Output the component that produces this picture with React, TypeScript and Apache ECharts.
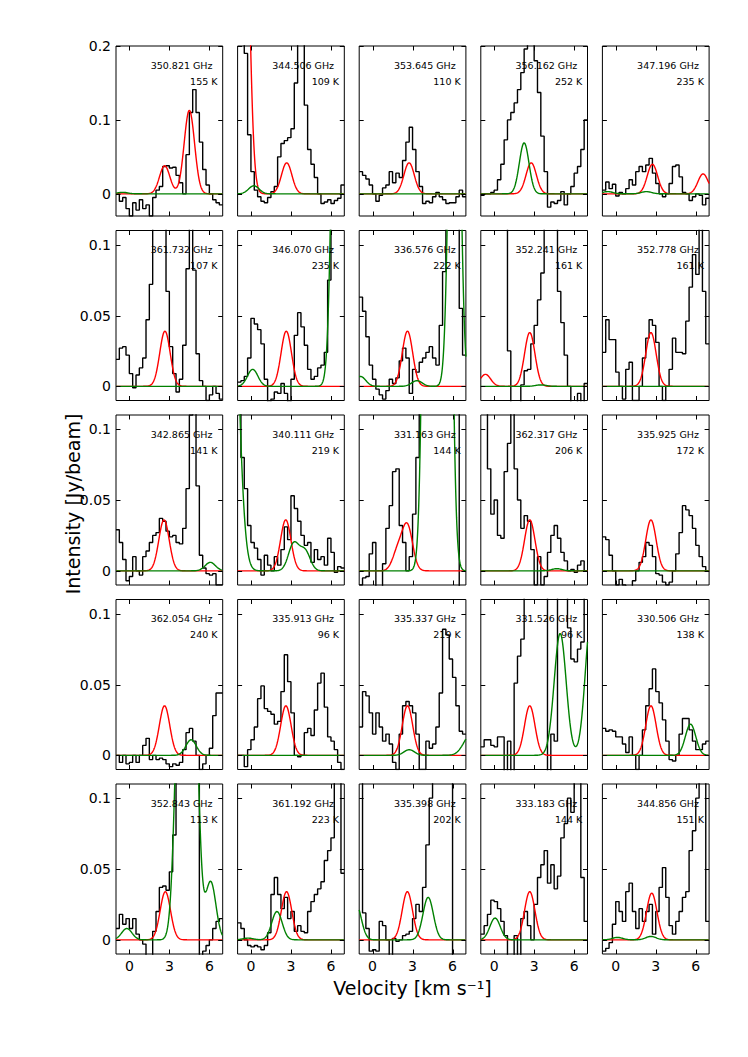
import React, { useEffect, useRef } from "react";
import * as echarts from "echarts";

// ---- data ----
const velStart = -1;
const chanWidth = 0.25;
const xTicks = [0, 3, 6];
const yTicksRow1 = [0, 0.1, 0.2];
const yTicksRest = [0, 0.05, 0.1];
const yRangeRow1 = [-0.03, 0.2];
const yRangeRest = [-0.01, 0.11];
const xRange = [-1, 7];

const freqLabels = [
  "350.821 GHz", "344.506 GHz", "353.645 GHz", "356.162 GHz", "347.196 GHz",
  "361.732 GHz", "346.070 GHz", "336.576 GHz", "352.241 GHz", "352.778 GHz",
  "342.865 GHz", "340.111 GHz", "331.163 GHz", "362.317 GHz", "335.925 GHz",
  "362.054 GHz", "335.913 GHz", "335.337 GHz", "331.526 GHz", "330.506 GHz",
  "352.843 GHz", "361.192 GHz", "335.398 GHz", "333.183 GHz", "344.856 GHz",
];
const tempLabels = [
  "155 K", "109 K", "110 K", "252 K", "235 K",
  "107 K", "235 K", "222 K", "161 K", "161 K",
  "141 K", "219 K", "144 K", "206 K", "172 K",
  "240 K", "96 K", "219 K", "96 K", "138 K",
  "113 K", "223 K", "202 K", "144 K", "151 K",
];

// observed spectra (Jy/beam), channels of 0.25 km/s from -1 to 7
const s00 = [0.0, -0.01, -0.005, -0.02, -0.03, -0.012, -0.022, -0.008, -0.02, -0.015, -0.03, -0.005, 0.005, 0.01, 0.037, 0.038, 0.035, 0.036, 0.025, 0.015, 0.0, 0.053, 0.11, 0.141, 0.11, 0.07, 0.033, 0.012, 0.0, -0.008, -0.012, -0.015];
const s01 = [0.25, 0.25, 0.19, 0.08, 0.03, 0.005, -0.004, -0.01, -0.012, -0.005, 0.003, 0.01, 0.05, 0.068, 0.072, 0.076, 0.088, 0.15, 0.25, 0.25, 0.12, 0.06, 0.04, 0.022, 0.0, -0.013, -0.011, -0.008, -0.013, -0.009, -0.006, 0.012];
const s02 = [0.03, 0.025, 0.02, 0.012, 0.0, -0.01, -0.002, 0.008, 0.012, 0.03, 0.015, 0.028, 0.022, 0.045, 0.07, 0.09, 0.06, 0.03, 0.01, -0.013, -0.01, -0.012, -0.004, 0.002, -0.004, -0.008, -0.013, -0.012, -0.012, -0.004, 0.005, -0.004];
const s03 = [-0.002, 0.0, 0.0, 0.002, 0.005, 0.019, 0.04, 0.073, 0.1, 0.11, 0.123, 0.141, 0.164, 0.196, 0.25, 0.25, 0.18, 0.137, 0.078, 0.03, -0.018, -0.011, -0.013, -0.009, 0.003, -0.015, 0.0, 0.01, 0.028, 0.037, 0.06, 0.1];
const s04 = [0.005, 0.016, 0.007, 0.013, -0.003, 0.002, 0.0, 0.007, 0.019, 0.012, 0.03, 0.037, 0.03, 0.039, 0.048, 0.028, 0.014, 0.0, -0.004, 0.0, 0.014, 0.037, 0.039, 0.023, 0.002, 0.0, -0.009, -0.004, 0.0, -0.002, -0.015, -0.006];
const s10 = [0.019, 0.027, 0.028, 0.022, 0.009, -0.001, 0.008, 0.013, 0.02, 0.047, 0.072, 0.13, 0.15, 0.15, 0.13, 0.067, 0.028, 0.009, -0.004, 0.005, 0.029, 0.083, 0.13, 0.082, 0.023, 0.004, 0.0, -0.01, -0.006, 0.0, -0.005, -0.009];
const s11 = [0.003, 0.004, 0.007, 0.02, 0.048, 0.044, 0.04, 0.03, 0.005, -0.011, -0.009, -0.004, -0.005, 0.002, -0.005, -0.011, 0.005, 0.036, 0.052, 0.042, 0.029, 0.012, 0.005, 0.007, 0.013, 0.015, 0.024, 0.075, 0.15, 0.15, 0.15, 0.15];
const s12 = [0.063, 0.053, 0.035, 0.015, 0.005, -0.002, -0.006, -0.009, -0.003, 0.005, 0.002, 0.006, 0.018, 0.027, 0.02, -0.005, 0.012, 0.01, 0.017, 0.02, 0.024, 0.028, 0.02, 0.015, 0.043, 0.081, 0.15, 0.15, 0.15, 0.15, 0.055, 0.022];
const s13 = [0.2, 0.2, 0.2, 0.2, 0.2, 0.2, 0.2, 0.2, 0.025, -0.02, -0.02, -0.02, 0.001, 0.011, 0.012, 0.03, 0.043, 0.061, 0.08, 0.2, 0.2, 0.2, 0.2, 0.067, 0.045, 0.022, 0.0, -0.02, -0.02, -0.005, -0.02, 0.002];
const s14 = [0.024, 0.047, 0.033, 0.033, 0.01, 0.0, -0.009, 0.012, 0.017, -0.01, -0.01, 0.0, 0.02, 0.034, 0.047, 0.043, 0.031, 0.0, -0.01, 0.0, 0.012, 0.034, 0.024, 0.024, 0.023, 0.046, 0.07, 0.093, 0.079, 0.15, 0.067, 0.03];
const s20 = [0.029, 0.02, 0.008, -0.007, -0.004, 0.01, 0.0, -0.003, 0.01, 0.014, 0.02, 0.025, 0.027, 0.037, 0.035, 0.028, 0.024, 0.025, 0.02, 0.019, 0.03, 0.058, 0.11, 0.15, 0.06, 0.011, 0.002, -0.002, -0.003, -0.002, -0.01, -0.01];
const s21 = [0.2, 0.08, 0.058, 0.032, 0.02, 0.016, 0.008, -0.003, 0.011, 0.004, 0.0, 0.01, 0.004, 0.015, 0.031, 0.022, 0.053, 0.044, 0.035, 0.025, 0.018, 0.02, 0.006, 0.015, 0.008, 0.01, 0.004, 0.023, 0.013, -0.001, 0.003, 0.002];
const s22 = [-0.01, -0.005, -0.004, 0.012, 0.02, -0.02, -0.02, 0.005, 0.03, 0.046, 0.07, 0.072, 0.032, 0.02, 0.0, 0.01, 0.04, 0.08, 0.2, 0.2, 0.2, 0.2, 0.2, 0.2, 0.2, 0.2, 0.2, 0.2, 0.2, 0.2, -0.02, -0.02];
const s23 = [0.2, 0.2, 0.072, 0.04, 0.05, 0.025, 0.023, 0.07, 0.09, 0.2, 0.072, 0.05, 0.03, 0.039, 0.035, 0.015, -0.01, 0.01, -0.01, -0.004, 0.013, 0.025, 0.032, 0.023, 0.013, 0.007, 0.0, 0.001, -0.001, 0.004, 0.007, 0.0];
const s24 = [0.024, 0.022, 0.011, 0.0, -0.01, -0.006, -0.01, -0.015, -0.012, -0.007, 0.0, 0.006, 0.01, 0.02, 0.018, 0.01, -0.002, -0.003, -0.008, -0.01, -0.008, 0.0, 0.012, 0.027, 0.046, 0.043, 0.039, 0.03, 0.018, 0.01, 0.003, 0.0];
const s30 = [0.0, -0.005, 0.0, -0.006, -0.005, 0.0, -0.005, 0.0, 0.007, 0.012, -0.003, 0.0, -0.003, -0.002, -0.003, -0.006, -0.008, -0.006, -0.007, -0.005, 0.004, 0.016, 0.019, 0.01, 0.0, -0.01, -0.006, 0.0, 0.005, 0.028, 0.044, 0.044];
const s31 = [0.0, 0.0, -0.008, 0.004, 0.011, 0.02, 0.04, 0.049, 0.033, 0.031, 0.029, 0.022, 0.024, 0.045, 0.071, 0.052, 0.03, 0.0, -0.001, 0.0, 0.016, 0.019, 0.014, 0.032, 0.051, 0.058, 0.034, 0.013, 0.01, 0.004, -0.005, -0.01];
const s32 = [0.02, 0.045, 0.042, 0.03, 0.015, 0.03, 0.02, 0.01, 0.015, 0.008, -0.005, -0.01, 0.015, 0.035, 0.038, 0.035, 0.03, 0.015, -0.01, -0.01, 0.01, 0.005, 0.008, 0.02, 0.044, 0.089, 0.085, 0.068, 0.055, 0.035, 0.017, 0.015];
const s33 = [0.006, 0.011, 0.011, 0.007, 0.006, 0.013, 0.013, -0.02, 0.01, -0.02, 0.051, 0.07, 0.082, 0.2, 0.2, 0.2, 0.2, 0.2, 0.2, 0.2, -0.02, 0.015, 0.01, 0.2, 0.2, 0.2, 0.09, 0.068, 0.066, 0.075, 0.08, 0.2];
const s34 = [0.019, 0.017, 0.018, 0.017, 0.013, 0.013, 0.008, 0.002, 0.013, 0.0, -0.01, 0.0, 0.018, 0.035, 0.047, 0.061, 0.045, 0.037, 0.025, 0.01, -0.003, -0.004, 0.0, 0.015, 0.026, 0.026, 0.018, 0.01, 0.004, 0.004, 0.008, 0.01];
const s40 = [0.008, 0.018, 0.011, 0.015, 0.008, 0.015, 0.004, 0.0, -0.003, -0.02, -0.02, 0.006, 0.02, 0.037, 0.038, 0.035, 0.048, 0.074, 0.2, 0.2, 0.2, 0.2, 0.2, 0.2, 0.2, -0.02, -0.008, -0.004, 0.0, 0.008, 0.013, 0.015];
const s41 = [0.012, 0.008, 0.0, -0.004, -0.005, -0.004, -0.005, -0.007, -0.004, 0.005, 0.032, 0.044, 0.032, 0.022, 0.03, 0.015, 0.02, 0.006, 0.01, 0.006, 0.005, 0.02, 0.027, 0.032, 0.036, 0.041, 0.056, 0.063, 0.072, 0.2, 0.2, 0.047];
const s42 = [0.2, 0.019, 0.008, -0.008, -0.007, -0.008, 0.013, 0.01, 0.0, -0.02, 0.001, -0.001, 0.0, 0.003, 0.004, 0.006, 0.015, 0.025, 0.02, 0.037, 0.067, 0.1, 0.2, 0.2, 0.2, 0.2, 0.2, 0.2, -0.02, -0.02, -0.02, -0.02];
const s43 = [0.004, 0.01, 0.018, 0.028, 0.027, 0.022, 0.013, 0.003, -0.02, -0.02, 0.003, -0.02, 0.015, 0.02, 0.01, 0.0, 0.025, 0.044, 0.053, 0.063, 0.04, 0.053, 0.036, 0.045, 0.072, 0.082, 0.1, 0.09, 0.2, 0.15, 0.044, 0.013];
const s44 = [-0.008, -0.006, -0.002, 0.011, 0.027, 0.02, 0.013, 0.034, 0.04, 0.02, 0.008, 0.022, 0.013, 0.02, 0.025, 0.004, 0.02, 0.037, 0.051, 0.03, 0.01, 0.004, 0.013, 0.02, 0.03, 0.034, 0.063, 0.077, 0.1, 0.2, 0.2, 0.013];

const spectra = [
  s00, s01, s02, s03, s04,
  s10, s11, s12, s13, s14,
  s20, s21, s22, s23, s24,
  s30, s31, s32, s33, s34,
  s40, s41, s42, s43, s44,
];

// fitted Gaussian components: [centre km/s, peak Jy/beam, sigma km/s]
const redFits: number[][][] = [
  [[2.65, 0.038, 0.39], [4.5, 0.113, 0.39]],
  [[-0.6, 0.6, 0.39], [2.68, 0.042, 0.39]],
  [[2.74, 0.042, 0.39]],
  [[2.78, 0.042, 0.39]],
  [[2.75, 0.04, 0.39], [6.55, 0.027, 0.39]],
  [[2.67, 0.039, 0.39]],
  [[2.65, 0.039, 0.39]],
  [[2.62, 0.039, 0.39]],
  [[-0.65, 0.0085, 0.39], [2.67, 0.038, 0.39]],
  [[2.64, 0.038, 0.39]],
  [[2.6, 0.036, 0.39]],
  [[2.61, 0.036, 0.39]],
  [[2.62, 0.031, 0.39], [1.9, 0.014, 0.39]],
  [[2.67, 0.036, 0.39]],
  [[2.64, 0.036, 0.39]],
  [[2.64, 0.035, 0.39]],
  [[2.62, 0.035, 0.39]],
  [[2.62, 0.035, 0.39]],
  [[2.67, 0.035, 0.39]],
  [[2.64, 0.035, 0.39]],
  [[2.7, 0.034, 0.39]],
  [[2.67, 0.034, 0.39]],
  [[2.61, 0.034, 0.39]],
  [[2.67, 0.034, 0.39]],
  [[2.7, 0.033, 0.39]],
];
const greenFits: number[][][] = [
  [[-0.5, 0.002, 0.39]],
  [[0.22, 0.011, 0.39]],
  [],
  [[2.25, 0.069, 0.36]],
  [[-0.6, 0.003, 0.39], [2.3, 0.003, 0.39]],
  [],
  [[0.13, 0.012, 0.39], [6.63, 0.52, 0.39]],
  [[-0.9, 0.007, 0.39], [3.33, 0.004, 0.39], [6.15, 0.4, 0.35]],
  [[3.5, 0.001, 0.39]],
  [],
  [[6.07, 0.006, 0.39]],
  [[-1.6, 0.3, 0.55], [3.2, 0.019, 0.39], [4.05, 0.014, 0.39]],
  [[4.43, 1.0, 0.39], [5.3, 1.0, 0.39]],
  [[4.7, 0.0015, 0.39]],
  [],
  [[4.63, 0.011, 0.39]],
  [],
  [[2.75, 0.004, 0.39], [7.4, 0.015, 0.55]],
  [[4.95, 0.086, 0.45], [7.3, 0.1, 0.45]],
  [[5.61, 0.022, 0.39]],
  [[-0.19, 0.008, 0.39], [3.85, 0.21, 0.39], [4.7, 0.25, 0.39], [6.1, 0.041, 0.39]],
  [[1.95, 0.02, 0.39], [-0.22, 0.0012, 0.39]],
  [[-1.25, 0.026, 0.39], [4.17, 0.03, 0.39]],
  [[0.07, 0.0154, 0.39]],
  [[0.13, 0.0017, 0.39], [2.64, 0.0024, 0.39]],
];

// ---- layout ----
const panelLefts = [116, 237.6, 359.2, 480.8, 602.4];
const panelTops = [46, 230.5, 415, 599.5, 784];
const panelW = 106.7;
const panelH = 170;
const tickLen = 4.5;
const FONT = "DejaVu Sans";

function stepPoints(vals: number[]) {
  const pts: number[][] = [];
  vals.forEach((v, i) => {
    const x0 = velStart + i * chanWidth;
    pts.push([x0, v], [x0 + chanWidth, v]);
  });
  return pts;
}

function modelPoints(comps: number[][]) {
  const pts: number[][] = [];
  const n = 400;
  for (let k = 0; k <= n; k++) {
    const v = xRange[0] + ((xRange[1] - xRange[0]) * k) / n;
    let y = 0;
    comps.forEach(([c, a, s]) => {
      y += a * Math.exp(-((v - c) * (v - c)) / (2 * s * s));
    });
    pts.push([v, y]);
  }
  return pts;
}

function textElements() {
  const elements: any[] = [];
  for (let r = 0; r < 5; r++) {
    for (let c = 0; c < 5; c++) {
      const i = r * 5 + c;
      const left = panelLefts[c];
      const top = panelTops[r];
      elements.push({
        type: "text",
        x: left + 96.5,
        y: top + 19,
        z: 10,
        style: { text: freqLabels[i], fill: "#000", fontSize: 9.5, fontFamily: FONT, align: "right", verticalAlign: "middle" },
      });
      elements.push({
        type: "text",
        x: left + 101.5,
        y: top + 35,
        z: 10,
        style: { text: tempLabels[i], fill: "#000", fontSize: 9.5, fontFamily: FONT, align: "right", verticalAlign: "middle" },
      });
    }
  }
  elements.push({
    type: "text",
    x: 72.5,
    y: 504,
    rotation: Math.PI / 2,
    style: { text: "Intensity [Jy/beam]", fill: "#000", fontSize: 19, fontFamily: FONT, align: "center", verticalAlign: "middle" },
  });
  elements.push({
    type: "text",
    x: 412.5,
    y: 987.5,
    style: { text: "Velocity [km s\u207B\u00B9]", fill: "#000", fontSize: 19, fontFamily: FONT, align: "center", verticalAlign: "middle" },
  });
  return elements;
}

function buildOption() {
  const grid: any[] = [];
  const xAxis: any[] = [];
  const yAxis: any[] = [];
  const series: any[] = [];
  for (let r = 0; r < 5; r++) {
    for (let c = 0; c < 5; c++) {
      const i = r * 5 + c;
      grid.push({
        left: panelLefts[c],
        top: panelTops[r],
        width: panelW,
        height: panelH,
        show: true,
        borderColor: "#000",
        borderWidth: 1,
        backgroundColor: "transparent",
        containLabel: false,
      });
      const yr = r === 0 ? yRangeRow1 : yRangeRest;
      const yt = r === 0 ? yTicksRow1 : yTicksRest;
      xAxis.push({
        gridIndex: i,
        type: "value",
        min: xRange[0],
        max: xRange[1],
        position: "bottom",
        axisLine: { show: false, onZero: false },
        splitLine: { show: false },
        axisTick: { show: false },
        axisLabel: {
          show: r === 4,
          customValues: xTicks,
          color: "#000",
          fontSize: 14,
          fontFamily: FONT,
          margin: 5,
          formatter: (v: number) => String(v),
        },
      });
      yAxis.push({
        gridIndex: i,
        type: "value",
        min: yr[0],
        max: yr[1],
        position: "left",
        axisLine: { show: false, onZero: false },
        splitLine: { show: false },
        axisTick: { show: false },
        axisLabel: {
          show: c === 0,
          customValues: yt,
          color: "#000",
          fontSize: 14,
          fontFamily: FONT,
          margin: 5,
          showMaxLabel: true,
          showMinLabel: true,
          formatter: (v: number) => String(Math.round(v * 1000) / 1000),
        },
      });
      const common = {
        type: "line",
        xAxisIndex: i,
        yAxisIndex: i,
        showSymbol: false,
        symbol: "none",
        clip: true,
        silent: true,
        animation: false,
      };
      series.push({ ...common, data: stepPoints(spectra[i]), lineStyle: { color: "#000", width: 1.4 }, z: 2 });
      series.push({ ...common, data: modelPoints(redFits[i]), lineStyle: { color: "#ff0000", width: 1.4 }, z: 3 });
      series.push({ ...common, data: modelPoints(greenFits[i]), lineStyle: { color: "#008000", width: 1.4 }, z: 4 });
    }
  }
  return {
    animation: false,
    backgroundColor: "#ffffff",
    grid,
    xAxis,
    yAxis,
    series,
  };
}

// tick marks on all four sides, placed through the chart's own coordinate conversion
function tickElements(chart: any) {
  const els: any[] = [];
  const seg = (x1: number, y1: number, x2: number, y2: number) => ({
    type: "line",
    z: 20,
    silent: true,
    shape: { x1, y1, x2, y2 },
    style: { stroke: "#000", lineWidth: 1 },
  });
  for (let r = 0; r < 5; r++) {
    for (let c = 0; c < 5; c++) {
      const i = r * 5 + c;
      const yr = r === 0 ? yRangeRow1 : yRangeRest;
      const yt = r === 0 ? yTicksRow1 : yTicksRest;
      xTicks.forEach((t) => {
        const b = chart.convertToPixel({ gridIndex: i }, [t, yr[0]]);
        const tp = chart.convertToPixel({ gridIndex: i }, [t, yr[1]]);
        const x = Math.round(b[0]) + 0.5;
        els.push(seg(x, b[1], x, b[1] - tickLen));
        els.push(seg(x, tp[1], x, tp[1] + tickLen));
      });
      yt.forEach((t) => {
        const l = chart.convertToPixel({ gridIndex: i }, [xRange[0], t]);
        const rt = chart.convertToPixel({ gridIndex: i }, [xRange[1], t]);
        const y = Math.round(l[1]) + 0.5;
        els.push(seg(l[0], y, l[0] + tickLen, y));
        els.push(seg(rt[0], y, rt[0] - tickLen, y));
      });
    }
  }
  return els;
}

export default function App() {
  const ref = useRef<HTMLDivElement>(null);
  useEffect(() => {
    if (!ref.current) return;
    const chart = echarts.init(ref.current, undefined, { renderer: "svg" });
    chart.setOption(buildOption() as any);
    chart.setOption({ graphic: { elements: [...textElements(), ...tickElements(chart)] } } as any);
    return () => chart.dispose();
  }, []);
  return (
    <div
      ref={ref}
      style={{ position: "absolute", left: 0, top: 0, width: 748, height: 1057, background: "#fff" }}
    />
  );
}
